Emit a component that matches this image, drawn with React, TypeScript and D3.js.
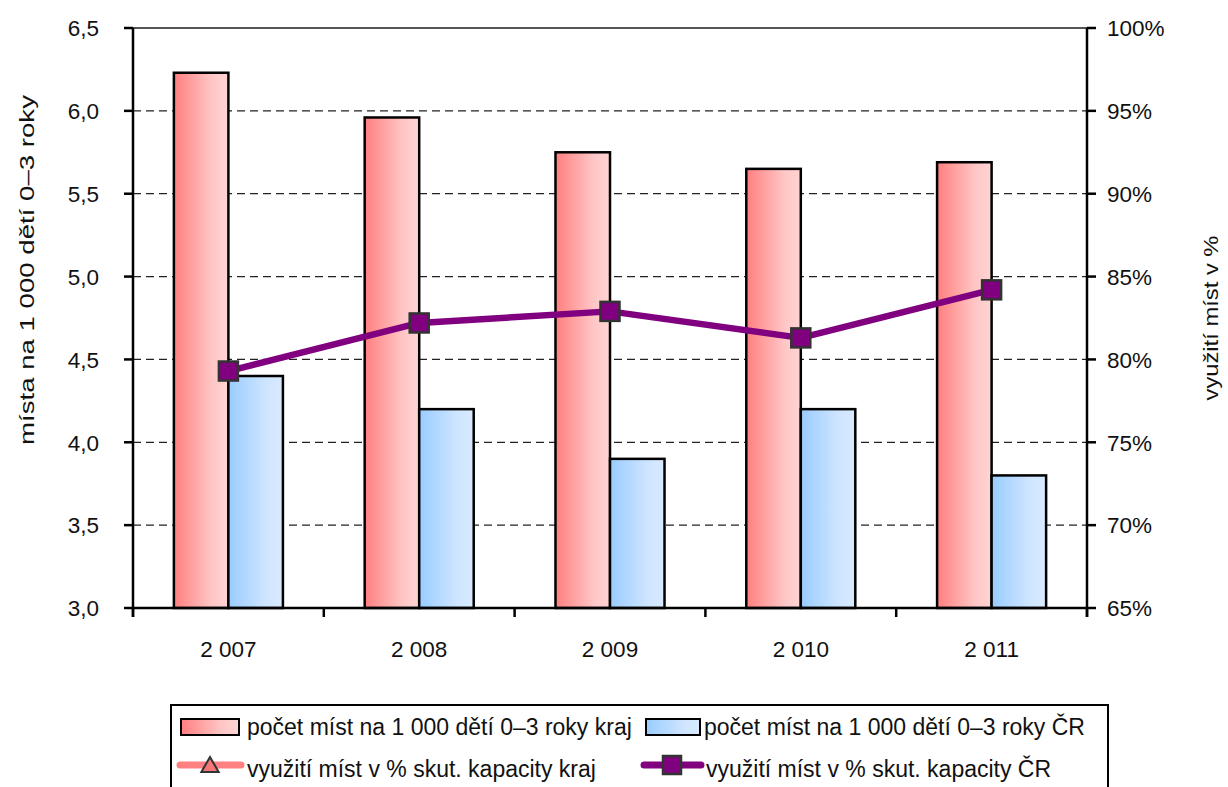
import React from "react";
import * as d3 from "d3";

const years = ["2 007", "2 008", "2 009", "2 010", "2 011"];
const mistaKraj = [6.23, 5.96, 5.75, 5.65, 5.69];
const mistaCR = [4.4, 4.2, 3.9, 4.2, 3.8];
const vyuzitiCR = [79.3, 82.2, 82.9, 81.3, 84.2];
const leftTicks = [3.0, 3.5, 4.0, 4.5, 5.0, 5.5, 6.0, 6.5];
const rightTicks = [65, 70, 75, 80, 85, 90, 95, 100];
const seriesKeys = ["kraj", "CR"];
const legendLabels = [
  "počet míst na 1 000 dětí 0–3 roky kraj",
  "počet míst na 1 000 dětí 0–3 roky ČR",
  "využití míst v % skut. kapacity kraj",
  "využití míst v % skut. kapacity ČR",
];

const FONT = "'Liberation Sans', Arial, sans-serif";

export default function App() {
  const W = 1228, H = 787;
  const L = 133, R = 1087, T = 28, B = 608;
  const x0 = d3.scaleBand<string>().domain(years).range([L, R]).paddingInner(0).paddingOuter(0);
  const x1 = d3.scaleBand<string>().domain(seriesKeys).range([0, x0.bandwidth()]).paddingInner(0).paddingOuter(0.75);
  const yL = d3.scaleLinear().domain([3, 6.5]).range([B, T]);
  const yR = d3.scaleLinear().domain([65, 100]).range([B, T]);
  const fmtL = (v: number) => d3.format(".1f")(v).replace(".", ",");
  const line = d3.line<number>()
    .x((_, i) => (x0(years[i]) as number) + x0.bandwidth() / 2)
    .y((d) => yR(d));
  const boundaries = [...years.map((y) => x0(y) as number), R];
  const ms = 19;

  return (
    <svg width={W} height={H} style={{ position: "absolute", left: 0, top: 0, background: "#fff" }} fontFamily={FONT}>
      <defs>
        <linearGradient id="gRed" x1="0" x2="1" y1="0" y2="0">
          <stop offset="0" stopColor="#ff7f7f" />
          <stop offset="0.7" stopColor="#ffc6c6" />
          <stop offset="1" stopColor="#ffd4d4" />
        </linearGradient>
        <linearGradient id="gBlue" x1="0" x2="1" y1="0" y2="0">
          <stop offset="0" stopColor="#99ccff" />
          <stop offset="0.7" stopColor="#cfe5ff" />
          <stop offset="1" stopColor="#d8eaff" />
        </linearGradient>
      </defs>
      <rect x={0} y={0} width={W} height={H} fill="#fff" />
      {/* gridlines */}
      {leftTicks.filter((t) => t > 3 && t < 6.5).map((t) => (
        <line key={"g" + t} x1={L} x2={R} y1={yL(t)} y2={yL(t)} stroke="#222" strokeWidth={1.2} strokeDasharray="8,5" />
      ))}
      <line x1={L} x2={R} y1={T} y2={T} stroke="#555" strokeWidth={2} />
      {/* bars */}
      {years.map((yr, i) => {
        const gx = x0(yr) as number;
        return (
          <g key={yr}>
            <rect x={gx + (x1("kraj") as number)} y={yL(mistaKraj[i])} width={x1.bandwidth()} height={B - yL(mistaKraj[i])}
              fill="url(#gRed)" stroke="#000" strokeWidth={2.5} />
            <rect x={gx + (x1("CR") as number)} y={yL(mistaCR[i])} width={x1.bandwidth()} height={B - yL(mistaCR[i])}
              fill="url(#gBlue)" stroke="#000" strokeWidth={2.5} />
          </g>
        );
      })}
      {/* axes */}
      <line x1={L} x2={L} y1={T} y2={B + 9} stroke="#000" strokeWidth={2.5} />
      <line x1={R} x2={R} y1={T} y2={B + 9} stroke="#000" strokeWidth={2.5} />
      <line x1={L} x2={R} y1={B} y2={B} stroke="#000" strokeWidth={2.5} />
      {leftTicks.map((t) => (
        <g key={"l" + t}>
          <line x1={L - 9} x2={L} y1={yL(t)} y2={yL(t)} stroke="#000" strokeWidth={2.5} />
          <text x={99} y={yL(t)} dy="0.37em" textAnchor="end" fontSize={22.5} fill="#111">{fmtL(t)}</text>
        </g>
      ))}
      {rightTicks.map((t) => (
        <g key={"r" + t}>
          <line x1={R} x2={R + 9} y1={yR(t)} y2={yR(t)} stroke="#000" strokeWidth={2.5} />
          <text x={1107} y={yR(t)} dy="0.37em" textAnchor="start" fontSize={22.5} fill="#111">{t + "%"}</text>
        </g>
      ))}
      {boundaries.map((b, i) => (
        <line key={"b" + i} x1={b} x2={b} y1={B} y2={B + 9} stroke="#000" strokeWidth={2.5} />
      ))}
      {years.map((yr) => (
        <text key={"x" + yr} x={(x0(yr) as number) + x0.bandwidth() / 2} y={657} textAnchor="middle" fontSize={22.5} fill="#111">{yr}</text>
      ))}
      {/* axis titles */}
      <text transform={`translate(34,270) rotate(-90)`} textAnchor="middle" fontSize={21} fill="#111"
        textLength={350} lengthAdjust="spacingAndGlyphs">místa na 1 000 dětí 0–3 roky</text>
      <text transform={`translate(1218,318) rotate(-90)`} textAnchor="middle" fontSize={21} fill="#111"
        textLength={165} lengthAdjust="spacingAndGlyphs">využití míst v %</text>
      {/* line CR */}
      <path d={line(vyuzitiCR) || ""} fill="none" stroke="#800080" strokeWidth={6.5} strokeLinejoin="round" />
      {vyuzitiCR.map((v, i) => {
        const cx = (x0(years[i]) as number) + x0.bandwidth() / 2;
        return <rect key={"m" + i} x={cx - ms / 2} y={yR(v) - ms / 2} width={ms} height={ms} fill="#800080" stroke="#333" strokeWidth={2.5} />;
      })}
      {/* legend */}
      <rect x={171} y={705} width={937} height={100} fill="#fff" stroke="#000" strokeWidth={2} />
      <rect x={181} y={719} width={58} height={16} fill="url(#gRed)" stroke="#000" strokeWidth={2} />
      <text x={247} y={735} fontSize={23} fill="#111">{legendLabels[0]}</text>
      <rect x={646} y={719} width={54} height={16} fill="url(#gBlue)" stroke="#000" strokeWidth={2} />
      <text x={704} y={735} fontSize={23} fill="#111">{legendLabels[1]}</text>
      <line x1={180} x2={241} y1={765} y2={765} stroke="#ff8080" strokeWidth={7} strokeLinecap="round" />
      <path d={d3.symbol(d3.symbolTriangle, 130)() || ""} transform="translate(210,767)" fill="#f47676" stroke="#333" strokeWidth={2} />
      <text x={247} y={777} fontSize={23} fill="#111">{legendLabels[2]}</text>
      <line x1={644} x2={701} y1={765} y2={765} stroke="#800080" strokeWidth={7} strokeLinecap="round" />
      <rect x={672 - 9} y={765 - 9} width={18} height={18} fill="#800080" stroke="#333" strokeWidth={2.5} />
      <text x={706} y={777} fontSize={23} fill="#111">{legendLabels[3]}</text>
    </svg>
  );
}
